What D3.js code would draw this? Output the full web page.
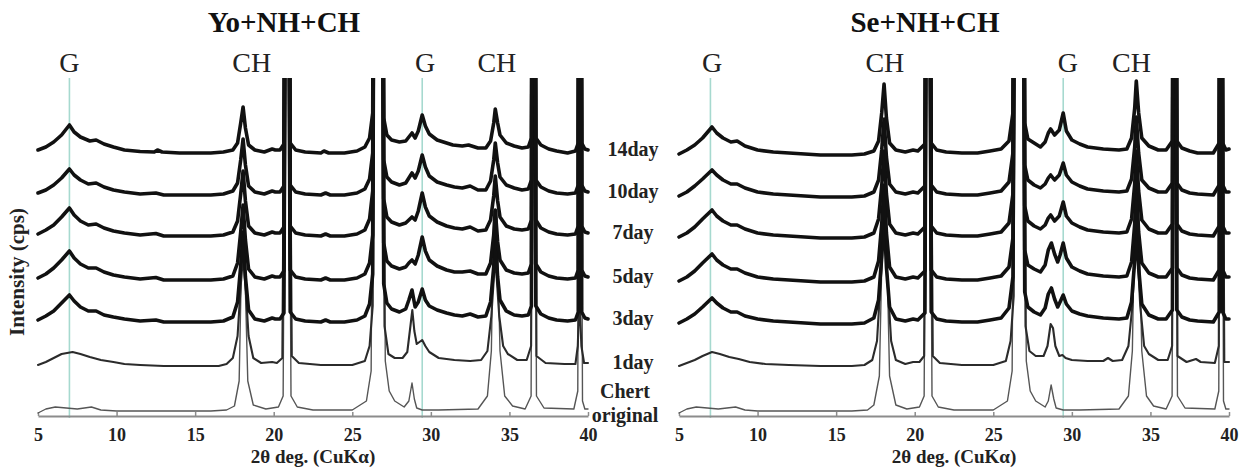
<!DOCTYPE html>
<html><head><meta charset="utf-8">
<script src="https://cdn.jsdelivr.net/npm/d3@7/dist/d3.min.js"></script>
<style>body{margin:0;background:#fff}svg{display:block}</style>
</head><body><svg id="c" width="1247" height="475"></svg>
<script>
// ---------- DATA ----------
const panelTitles = ["Yo+NH+CH", "Se+NH+CH"];
const seriesNames = ["14day", "10day", "7day", "5day", "3day", "1day", "Chert original"];
const dayLabels = ["14day", "10day", "7day", "5day", "3day", "1day"];
const chertLabel = ["Chert", "original"];
const xTicks = [5, 10, 15, 20, 25, 30, 35, 40];
const xTitle = "2θ deg. (CuKα)";
const yTitle = "Intensity (cps)";
const peakLabelsYo = [["G", 7.0], ["CH", 18.6], ["G", 29.63], ["CH", 34.2]];
const peakLabelsSe = [["G", 7.1], ["CH", 18.1], ["G", 29.75], ["CH", 33.8]];
const guideLines = [7.0, 29.45];
// stacking offsets (cps) for each series, top to bottom
const offsets = [2630, 2210, 1800, 1360, 940, 500, 50];

// Yo+NH+CH patterns: [2θ, intensity above offset (cps)]
const yo14 = [[5,30],[5.5,60],[6,110],[6.5,180],[7,280],[7.3,210],[7.7,160],[8.3,120],[8.7,130],[9.2,90],[9.8,60],[10.5,30],[11.5,15],[12.4,10],[12.6,30],[12.9,10],[14,0],[15,0],[16,0],[16.8,10],[17.4,30],[17.7,100],[17.9,300],[18.05,460],[18.2,250],[18.4,80],[18.8,30],[19.4,10],[19.9,40],[20.1,30],[20.4,30],[20.65,90],[20.8,6000],[20.9,6000],[21.05,100],[21.4,30],[22,10],[23,0],[23.2,20],[23.5,0],[24.5,0],[25.3,20],[25.8,60],[26.1,150],[26.3,400],[26.42,6000],[26.88,6000],[27.0,350],[27.2,180],[27.5,130],[28,110],[28.4,120],[28.6,160],[28.8,200],[29.0,150],[29.2,220],[29.45,380],[29.65,270],[29.9,190],[30.4,130],[31,100],[31.4,80],[32,70],[32.4,80],[33,50],[33.5,50],[33.8,120],[34.0,300],[34.1,440],[34.25,300],[34.4,180],[34.8,100],[35.3,70],[35.8,50],[36.2,60],[36.4,150],[36.5,6000],[36.58,6000],[36.68,150],[37,80],[37.5,40],[38,20],[38.7,0],[39.2,20],[39.38,100],[39.45,6000],[39.52,6000],[39.6,100],[39.8,40],[40,30]];
const yo10 = [[5,20],[5.5,50],[6,100],[6.5,170],[7,260],[7.3,200],[7.7,150],[8.2,110],[8.7,120],[9.2,80],[9.8,50],[10.5,30],[11.5,10],[12.5,20],[13,0],[14,0],[15,0],[16,0],[16.8,10],[17.4,40],[17.7,120],[17.9,350],[18.05,560],[18.2,300],[18.4,90],[18.8,30],[19.4,10],[19.9,40],[20.1,30],[20.4,30],[20.65,90],[20.8,6000],[20.9,6000],[21.05,100],[21.4,30],[22,10],[23,0],[23.3,20],[23.6,0],[24.5,0],[25.3,20],[25.8,60],[26.1,160],[26.3,420],[26.42,6000],[26.88,6000],[27.0,350],[27.2,180],[27.5,130],[28,100],[28.4,120],[28.6,170],[28.8,220],[29.0,170],[29.2,240],[29.45,400],[29.65,280],[29.9,190],[30.4,130],[31,100],[31.5,80],[32,70],[32.5,90],[33,50],[33.5,50],[33.8,140],[34.0,350],[34.1,520],[34.25,320],[34.4,180],[34.8,100],[35.3,70],[35.8,50],[36.2,60],[36.4,150],[36.5,6000],[36.58,6000],[36.68,150],[37,80],[37.5,40],[38,20],[38.7,10],[39.2,20],[39.38,100],[39.45,6000],[39.52,6000],[39.6,100],[39.8,40],[40,30]];
const yo7 = [[5,20],[5.5,60],[6,110],[6.5,190],[7,280],[7.3,210],[7.7,150],[8.2,110],[8.7,120],[9.2,80],[9.8,50],[10.5,30],[11.5,10],[12.5,25],[13,0],[14,0],[15,0],[16,0],[16.8,10],[17.4,40],[17.7,150],[17.9,420],[18.05,650],[18.2,350],[18.4,100],[18.8,30],[19.4,10],[19.9,40],[20.1,30],[20.4,30],[20.65,90],[20.8,6000],[20.9,6000],[21.05,100],[21.4,30],[22,10],[23,0],[23.3,20],[23.6,0],[24.5,0],[25.3,20],[25.8,60],[26.1,170],[26.3,450],[26.42,6000],[26.88,6000],[27.0,370],[27.2,190],[27.5,140],[28,110],[28.4,130],[28.6,160],[28.8,190],[29.0,160],[29.2,250],[29.45,430],[29.65,290],[29.9,200],[30.4,140],[31,100],[31.5,80],[32,70],[32.5,90],[33,50],[33.5,60],[33.8,160],[34.0,400],[34.1,600],[34.25,350],[34.4,190],[34.8,100],[35.3,70],[35.8,60],[36.2,70],[36.4,160],[36.5,6000],[36.58,6000],[36.68,160],[37,80],[37.5,40],[38,20],[38.7,10],[39.2,20],[39.38,100],[39.45,6000],[39.52,6000],[39.6,100],[39.8,40],[40,30]];
const yo5 = [[5,20],[5.5,60],[6,120],[6.5,200],[7,290],[7.3,220],[7.7,160],[8.2,120],[8.7,120],[9.2,80],[9.8,50],[10.5,30],[11.5,10],[12.5,25],[13,0],[14,0],[15,0],[16,0],[16.8,10],[17.4,40],[17.7,170],[17.9,480],[18.05,750],[18.2,400],[18.4,110],[18.8,30],[19.4,10],[19.9,40],[20.1,30],[20.4,30],[20.65,90],[20.8,6000],[20.9,6000],[21.05,100],[21.4,30],[22,10],[23,0],[23.3,20],[23.6,0],[24.5,0],[25.3,20],[25.8,60],[26.1,170],[26.3,450],[26.42,6000],[26.88,6000],[27.0,370],[27.2,190],[27.5,140],[28,110],[28.4,130],[28.6,170],[28.8,200],[29.0,160],[29.2,250],[29.45,430],[29.65,290],[29.9,200],[30.4,140],[31,100],[31.5,80],[32,80],[32.5,90],[33,60],[33.5,60],[33.8,170],[34.0,450],[34.1,700],[34.25,380],[34.4,200],[34.8,100],[35.3,70],[35.8,60],[36.2,70],[36.4,160],[36.5,6000],[36.58,6000],[36.68,160],[37,80],[37.5,40],[38,20],[38.7,10],[39.2,20],[39.38,100],[39.45,6000],[39.52,6000],[39.6,100],[39.8,40],[40,30]];
const yo3 = [[5,20],[5.5,60],[6,110],[6.5,190],[7,270],[7.3,210],[7.7,150],[8.2,110],[8.7,110],[9.2,70],[9.8,50],[10.5,30],[11.5,10],[12.5,20],[13,0],[14,0],[15,0],[16,0],[16.8,10],[17.4,50],[17.7,200],[17.9,560],[18.05,900],[18.2,450],[18.4,120],[18.8,30],[19.4,10],[19.9,40],[20.1,30],[20.4,30],[20.65,90],[20.8,6000],[20.9,6000],[21.05,100],[21.4,30],[22,10],[23,0],[23.3,20],[23.6,0],[24.5,0],[25.3,20],[25.8,60],[26.1,180],[26.3,480],[26.42,6000],[26.88,6000],[27.0,380],[27.2,190],[27.5,130],[28,100],[28.4,130],[28.6,220],[28.8,320],[29.0,150],[29.2,200],[29.45,330],[29.65,220],[29.9,160],[30.4,120],[31,90],[31.5,70],[32,60],[32.5,80],[33,50],[33.5,60],[33.8,200],[34.0,550],[34.1,850],[34.25,450],[34.4,220],[34.8,110],[35.3,70],[35.8,60],[36.2,70],[36.4,160],[36.5,6000],[36.58,6000],[36.68,160],[37,80],[37.5,40],[38,20],[38.7,10],[39.2,20],[39.38,100],[39.45,6000],[39.52,6000],[39.6,100],[39.8,40],[40,30]];
const yo1 = [[5,10],[5.5,40],[6,80],[6.5,120],[7.2,140],[7.7,120],[8.3,90],[9,60],[9.8,40],[10.5,20],[11.5,10],[13,0],[15,0],[16.5,0],[17.0,20],[17.4,80],[17.7,300],[17.9,800],[18.05,1100],[18.2,800],[18.4,300],[18.7,80],[19.2,30],[19.9,40],[20.2,30],[20.55,80],[20.8,6000],[20.9,6000],[21.15,100],[21.6,30],[23,10],[25,10],[25.8,50],[26.1,200],[26.3,600],[26.42,6000],[26.88,6000],[27.05,400],[27.3,120],[27.7,80],[28.2,80],[28.5,140],[28.7,400],[28.82,560],[28.95,350],[29.1,220],[29.45,260],[29.65,200],[29.9,140],[30.5,80],[31.5,60],[32.5,50],[33.2,60],[33.6,150],[33.85,500],[34.1,1100],[34.35,500],[34.6,200],[34.9,120],[35.5,60],[36.1,60],[36.38,200],[36.5,6000],[36.58,6000],[36.72,100],[37.3,30],[38.5,20],[39.2,20],[39.35,200],[39.45,700],[39.58,200],[39.75,30],[40,30]];
const yo0 = [[5,-20],[5.5,20],[6.1,40],[6.8,30],[7.5,20],[8.4,40],[9,10],[10,0],[12,0],[14,0],[16,0],[17.0,10],[17.5,50],[17.8,300],[17.95,1500],[18.05,1800],[18.15,1500],[18.35,300],[18.7,60],[19.5,20],[20.3,40],[20.6,150],[20.8,6000],[20.9,6000],[21.1,150],[21.5,40],[22.5,10],[25,10],[25.9,100],[26.2,400],[26.4,6000],[26.9,6000],[27.1,500],[27.35,200],[27.7,100],[28.3,40],[28.6,100],[28.8,280],[28.95,120],[29.1,30],[29.45,10],[30.5,10],[33.0,20],[33.6,150],[33.85,600],[34.0,2000],[34.2,2000],[34.4,600],[34.7,150],[35.2,50],[36,20],[36.38,150],[36.5,6000],[36.58,6000],[36.72,150],[37.2,30],[39.1,20],[39.35,200],[39.45,6000],[39.52,6000],[39.65,100],[39.8,20],[40,20]];

// Se+NH+CH patterns
const se14 = [[5,-10],[5.5,30],[6,80],[6.5,150],[7.1,260],[7.4,200],[7.8,150],[8.3,110],[8.7,120],[9.2,70],[10,30],[11,10],[12,0],[13,-10],[14,-20],[15,-20],[16,-20],[16.8,-10],[17.4,20],[17.7,120],[17.9,400],[18.05,690],[18.2,350],[18.4,100],[18.8,30],[19.4,10],[19.9,30],[20.2,20],[20.65,90],[20.8,6000],[20.9,6000],[21.05,100],[21.4,30],[22,10],[23,0],[24,0],[24.8,20],[25.5,40],[26,120],[26.25,400],[26.42,6000],[26.88,6000],[27.0,300],[27.2,140],[27.6,100],[28,60],[28.3,110],[28.5,200],[28.65,240],[28.9,180],[29.2,230],[29.45,400],[29.65,220],[30,130],[30.5,90],[31,60],[32,40],[33,30],[33.5,40],[33.8,150],[34.0,450],[34.1,720],[34.25,400],[34.45,150],[34.9,70],[35.5,30],[36,30],[36.4,120],[36.5,6000],[36.58,6000],[36.68,120],[37,50],[37.5,20],[38,0],[39,0],[39.38,100],[39.45,6000],[39.52,6000],[39.6,100],[39.8,30],[40,40]];
const se10 = [[5,-10],[5.5,30],[6,90],[6.5,160],[7.1,250],[7.4,200],[7.8,150],[8.3,110],[8.7,110],[9.2,70],[10,30],[11,10],[12,0],[13,-10],[14,-20],[15,-20],[16,-20],[16.8,-10],[17.4,30],[17.7,150],[17.9,450],[18.05,760],[18.2,380],[18.4,110],[18.8,30],[19.4,10],[19.9,30],[20.2,20],[20.65,90],[20.8,6000],[20.9,6000],[21.05,100],[21.4,30],[22,10],[23,0],[24,0],[24.8,20],[25.5,40],[26,130],[26.25,420],[26.42,6000],[26.88,6000],[27.0,300],[27.2,150],[27.6,100],[28,70],[28.3,110],[28.5,170],[28.65,200],[28.9,150],[29.2,200],[29.45,320],[29.65,200],[30,130],[30.5,90],[31,60],[32,40],[33,30],[33.5,40],[33.8,160],[34.0,480],[34.1,780],[34.25,420],[34.45,150],[34.9,70],[35.5,30],[36,30],[36.4,120],[36.5,6000],[36.58,6000],[36.68,120],[37,50],[37.5,20],[38,10],[39,0],[39.38,100],[39.45,6000],[39.52,6000],[39.6,100],[39.8,30],[40,30]];
const se7 = [[5,-10],[5.5,30],[6,90],[6.5,170],[7.1,260],[7.4,200],[7.8,150],[8.3,110],[8.7,110],[9.2,70],[10,30],[11,10],[12,0],[13,-10],[14,-20],[15,-20],[16,-20],[16.8,-10],[17.4,30],[17.7,170],[17.9,500],[18.05,850],[18.2,420],[18.4,120],[18.8,30],[19.4,10],[19.9,30],[20.2,20],[20.65,90],[20.8,6000],[20.9,6000],[21.05,100],[21.4,30],[22,10],[23,0],[24,0],[24.8,20],[25.5,40],[26,130],[26.25,420],[26.42,6000],[26.88,6000],[27.0,300],[27.2,150],[27.6,100],[28,70],[28.3,110],[28.5,180],[28.65,210],[28.9,150],[29.2,200],[29.45,340],[29.65,200],[30,130],[30.5,90],[31,60],[32,40],[33,30],[33.5,40],[33.8,170],[34.0,520],[34.1,850],[34.25,450],[34.45,160],[34.9,70],[35.5,30],[36,30],[36.4,120],[36.5,6000],[36.58,6000],[36.68,120],[37,50],[37.5,20],[38,10],[39,0],[39.38,100],[39.45,6000],[39.52,6000],[39.6,100],[39.8,30],[40,30]];
const se5 = [[5,-10],[5.5,30],[6,90],[6.5,170],[7.1,260],[7.4,200],[7.8,150],[8.3,110],[8.7,110],[9.2,70],[10,30],[11,10],[12,0],[13,-10],[14,-20],[15,-20],[16,-20],[16.8,-10],[17.4,30],[17.7,190],[17.9,560],[18.05,950],[18.2,470],[18.4,130],[18.8,30],[19.4,10],[19.9,30],[20.2,20],[20.65,90],[20.8,6000],[20.9,6000],[21.05,100],[21.4,30],[22,10],[23,0],[24,0],[24.8,20],[25.5,40],[26,130],[26.25,420],[26.42,6000],[26.88,6000],[27.0,300],[27.2,150],[27.6,110],[28,80],[28.3,150],[28.5,300],[28.7,370],[28.9,260],[29.1,180],[29.25,250],[29.45,370],[29.65,220],[30,130],[30.5,90],[31,60],[32,40],[33,30],[33.5,40],[33.8,180],[34.0,560],[34.1,950],[34.25,480],[34.45,170],[34.9,70],[35.5,30],[36,30],[36.4,120],[36.5,6000],[36.58,6000],[36.68,120],[37,50],[37.5,20],[38,10],[39,0],[39.38,100],[39.45,6000],[39.52,6000],[39.6,100],[39.8,30],[40,30]];
const se3 = [[5,-10],[5.5,30],[6,80],[6.5,150],[7.1,240],[7.4,190],[7.8,140],[8.3,100],[8.7,100],[9.2,60],[10,30],[11,10],[12,0],[13,-10],[14,-20],[15,-20],[16,-20],[16.8,-10],[17.4,40],[17.7,220],[17.9,650],[18.05,1100],[18.2,550],[18.4,150],[18.8,30],[19.4,10],[19.9,30],[20.2,20],[20.65,90],[20.8,6000],[20.9,6000],[21.05,100],[21.4,30],[22,10],[23,0],[24,0],[24.8,20],[25.5,40],[26,140],[26.25,450],[26.42,6000],[26.88,6000],[27.0,300],[27.2,150],[27.6,100],[28,70],[28.3,140],[28.5,280],[28.7,340],[28.9,230],[29.1,150],[29.25,200],[29.45,270],[29.65,180],[30,110],[30.5,80],[31,60],[32,40],[33,30],[33.5,40],[33.8,200],[34.0,620],[34.1,1100],[34.25,540],[34.45,180],[34.9,70],[35.5,30],[36,30],[36.4,120],[36.5,6000],[36.58,6000],[36.68,120],[37,50],[37.5,20],[38,10],[39,0],[39.38,100],[39.45,6000],[39.52,6000],[39.6,100],[39.8,30],[40,30]];
const se1 = [[5,0],[5.5,30],[6,60],[6.5,100],[7.1,140],[7.6,120],[8.2,90],[8.8,70],[9.5,40],[10.5,20],[12,10],[14,0],[16,0],[16.8,10],[17.3,60],[17.6,250],[17.85,900],[18.05,1400],[18.25,900],[18.5,250],[18.8,60],[19.4,20],[19.9,40],[20.3,40],[20.6,100],[20.8,6000],[20.9,6000],[21.15,100],[21.6,30],[23,10],[25,10],[25.8,50],[26.1,250],[26.3,700],[26.42,6000],[26.88,6000],[27.05,400],[27.3,150],[27.7,100],[28.2,100],[28.45,200],[28.65,420],[28.8,380],[28.95,200],[29.2,100],[29.4,110],[29.6,80],[30,60],[31,50],[32,50],[32.3,80],[32.6,50],[33.2,60],[33.6,200],[33.85,600],[34.1,1400],[34.35,600],[34.6,200],[34.9,120],[35.5,60],[36.1,60],[36.38,200],[36.5,6000],[36.58,6000],[36.72,100],[37.3,40],[37.9,70],[38.2,40],[39.1,30],[39.35,200],[39.45,6000],[39.52,6000],[39.7,40],[40,40]];
const se0 = [[5,-20],[5.5,20],[6.1,40],[6.8,30],[7.5,20],[8.6,40],[9.2,10],[10,0],[12,0],[14,0],[16,0],[17.0,10],[17.4,60],[17.75,350],[17.95,1800],[18.05,2000],[18.2,1800],[18.4,350],[18.8,60],[19.5,20],[20.3,40],[20.6,150],[20.8,6000],[20.9,6000],[21.1,150],[21.5,40],[22.5,10],[25,10],[25.9,100],[26.2,400],[26.4,6000],[26.9,6000],[27.1,500],[27.35,200],[27.7,100],[28.3,40],[28.5,100],[28.68,260],[28.85,120],[29.0,30],[29.45,10],[30.5,10],[33.0,20],[33.6,150],[33.85,600],[34.0,2000],[34.25,2000],[34.45,600],[34.75,150],[35.2,50],[36,20],[36.38,150],[36.5,6000],[36.58,6000],[36.72,150],[37.2,30],[39.1,20],[39.35,200],[39.45,6000],[39.52,6000],[39.65,100],[39.8,20],[40,20]];

const yoSeries = [yo14, yo10, yo7, yo5, yo3, yo1, yo0];
const seSeries = [se14, se10, se7, se5, se3, se1, se0];

// ---------- LAYOUT ----------
const svg = d3.select("#c");
const SERIF = "'Liberation Serif','Times New Roman',serif";
const yS = d3.scaleLinear().domain([0, 3380]).range([416, 78]);
const panels = [
  {title: panelTitles[0], series: yoSeries, labels: peakLabelsYo, x: d3.scaleLinear().domain([5, 40]).range([38, 588]), titleX: 284, xTitleX: 313},
  {title: panelTitles[1], series: seSeries, labels: peakLabelsSe, x: d3.scaleLinear().domain([5, 40]).range([679, 1229]), titleX: 925, xTitleX: 954}
];

const defs = svg.append("defs");
panels.forEach((p, pi) => {
  const x = p.x;
  defs.append("clipPath").attr("id", "clip" + pi).append("rect")
    .attr("x", x.range()[0] - 4).attr("y", 78).attr("width", x.range()[1] - x.range()[0] + 8).attr("height", 350);
  const g = svg.append("g");

  // guide lines
  g.selectAll("line.guide").data(guideLines).join("line")
    .attr("x1", d => x(d)).attr("x2", d => x(d)).attr("y1", 78).attr("y2", 418)
    .attr("stroke", "#a6d9cf").attr("stroke-width", 1.6);

  // axis
  const ax = g.append("g").attr("transform", "translate(0,416)")
    .call(d3.axisBottom(x).tickValues(xTicks).tickFormat(d3.format("d")).tickSize(-4).tickSizeOuter(0).tickPadding(12));
  ax.select(".domain").attr("stroke", "#8c8c8c").attr("stroke-width", 2);
  ax.selectAll(".tick line").attr("stroke", "#8c8c8c").attr("stroke-width", 1.5);
  ax.selectAll(".tick text").attr("font-family", SERIF).attr("font-weight", "bold").attr("font-size", 18).attr("fill", "#222");

  // curves
  const line = d3.line().x(d => x(d[0]));
  const cg = g.append("g").attr("clip-path", `url(#clip${pi})`);
  const order = d3.range(p.series.length).reverse();
  order.forEach(i => {
    const off = offsets[i];
    cg.append("path").datum(p.series[i])
      .attr("d", line.y(d => yS(d[1] + off)))
      .attr("fill", "none")
      .attr("stroke", i === 6 ? "#555" : i === 5 ? "#2b2b2b" : "#111")
      .attr("stroke-width", i === 6 ? 1.4 : i === 5 ? 2.1 : 3.6)
      .attr("stroke-linejoin", "round").attr("stroke-linecap", "round");
  });

  // titles
  g.append("text").attr("x", p.titleX).attr("y", 32).attr("text-anchor", "middle")
    .attr("font-family", SERIF).attr("font-weight", "bold").attr("font-size", 29).attr("fill", "#111").text(p.title);
  g.selectAll("text.pk").data(p.labels).join("text")
    .attr("x", d => x(d[1])).attr("y", 72).attr("text-anchor", "middle")
    .attr("font-family", SERIF).attr("font-size", 28).attr("fill", "#222").text(d => d[0]);
  g.append("text").attr("x", p.xTitleX).attr("y", 463).attr("text-anchor", "middle")
    .attr("font-family", SERIF).attr("font-weight", "bold").attr("font-size", 19).attr("fill", "#222").text(xTitle);
});

// day labels (between panels)
svg.selectAll("text.day").data(dayLabels).join("text")
  .attr("x", 633).attr("y", (d, i) => yS(offsets[i]) + 3).attr("text-anchor", "middle")
  .attr("font-family", SERIF).attr("font-weight", "bold").attr("font-size", 20).attr("fill", "#222").text(d => d);
svg.selectAll("text.chert").data(chertLabel).join("text")
  .attr("x", 625).attr("y", (d, i) => 398 + i * 24).attr("text-anchor", "middle")
  .attr("font-family", SERIF).attr("font-weight", "bold").attr("font-size", 20).attr("fill", "#222").text(d => d);

// y title
svg.append("text").attr("transform", "translate(24,272) rotate(-90)").attr("text-anchor", "middle")
  .attr("font-family", SERIF).attr("font-weight", "bold").attr("font-size", 21).attr("fill", "#222").text(yTitle);
</script></body></html>
